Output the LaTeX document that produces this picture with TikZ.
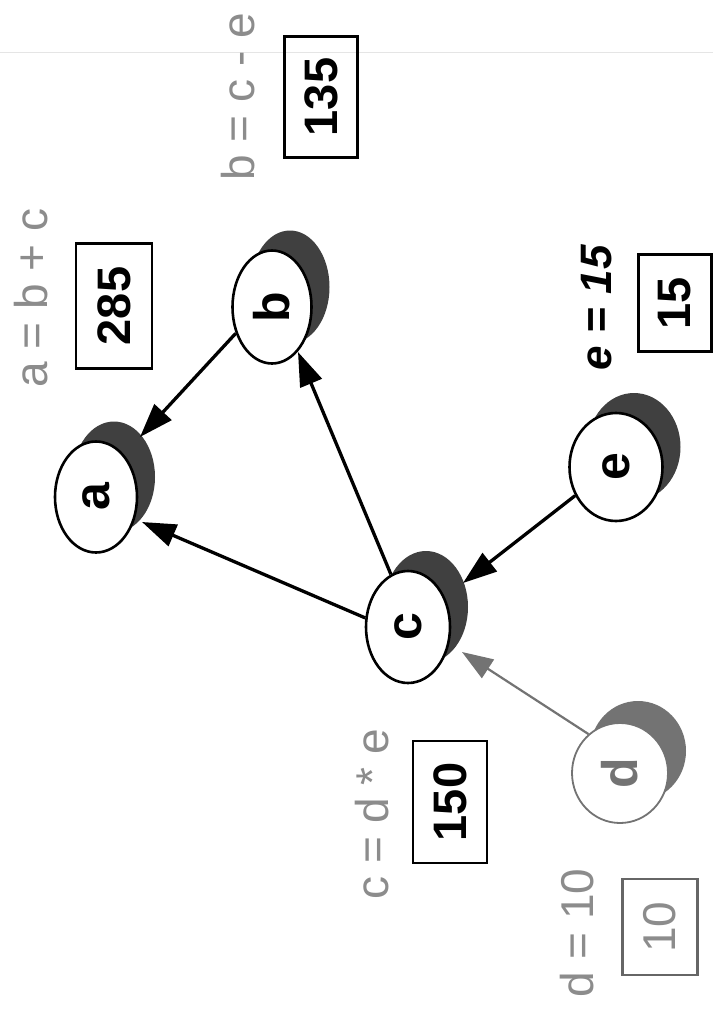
\documentclass[tikz,border=0pt]{standalone}
\usepackage{graphicx}
\usepackage{fontspec}
\setmainfont{Liberation Sans}
\usetikzlibrary{shapes.geometric,shadows,arrows.meta}
\tikzset{
  ell/.style={ellipse, draw=black, line width=2.6pt, fill=white, inner sep=0pt,
    font=\fontsize{50}{50}\selectfont\bfseries},
  shad/.style={drop shadow={shadow xshift=18pt, shadow yshift=20pt, opacity=1, fill=black!75}},
  gshad/.style={drop shadow={shadow xshift=18pt, shadow yshift=22pt, opacity=1, fill=black!55}},
  gell/.style={ell, draw=black!55, line width=1.8pt, text=black!55},
  numbox/.style={draw=black, line width=2.5pt, rotate=90, inner sep=0pt,
    font=\fontsize{47}{47}\selectfont\bfseries},
  gnumbox/.style={numbox, draw=black!60, text=black!45, font=\fontsize{46}{46}\selectfont},
  gtxt/.style={rotate=90, text=black!45, inner sep=0pt, font=\fontsize{46}{46}\selectfont},
  btxt/.style={rotate=90, text=black, inner sep=0pt, font=\fontsize{44}{44}\selectfont\bfseries\itshape},
  arr/.style={line width=3.3pt, -{Triangle[length=34pt,width=23pt]}},
  garr/.style={line width=2.2pt, draw=black!55, -{Triangle[length=31pt,width=22pt]}},
}
\begin{document}
\begin{tikzpicture}[x=1pt,y=-1pt]
\useasboundingbox (0,0) rectangle (713,1009);
\fill[white] (0,0) rectangle (713,1009);
\draw[black!10, line width=1pt] (0,52) -- (713,52);

% nodes
\node[ell, shad, minimum width=82pt, minimum height=111pt] (a) at (96,497) {\rotatebox{90}{a}};
\node[ell, shad, minimum width=79pt, minimum height=113pt] (b) at (272,307) {\rotatebox{90}{b}};
\node[ell, shad, minimum width=84pt, minimum height=112pt] (c) at (408,627) {\rotatebox{90}{c}};
\node[ell, shad, minimum width=93pt, minimum height=108pt] (e) at (616,467) {\rotatebox{90}{e}};
\node[gell, gshad, minimum width=96pt, minimum height=100pt] (d) at (620,773) {\rotatebox{90}{d}};

% formulas
\node[gtxt] (fa) at (31,298) {a = b + c};
\node[gtxt] (fb) at (238,97) {b = c - e};
\node[gtxt] (fc) at (372,814) {c = d * e};
\node[gtxt] (fd) at (577,933) {d = 10};
\node[btxt] (fe) at (597,308) {e\hspace{0.3em}=\hspace{0.3em}15};

% value boxes
\node[numbox, minimum width=125pt, minimum height=76pt] (va) at (114,306) {285};
\node[numbox, minimum width=121pt, minimum height=73pt] (vb) at (321,97) {135};
\node[numbox, minimum width=122pt, minimum height=74pt] (vc) at (450,802) {150};
\node[numbox, minimum width=97pt, minimum height=73pt] (ve) at (675,303) {15};
\node[gnumbox, minimum width=96pt, minimum height=75pt] (vd) at (660,927) {10};

% connectors
\draw[arr] (b.216) -- ([shift={(44,-60)}]a.center);
\draw[arr] (c.168) -- ([shift={(46,25)}]a.center);
\draw[arr] (c.108) -- ([shift={(26,45)}]b.center);
\draw[arr] (e.215) -- ([shift={(55,-44)}]c.center);
\draw[garr] (d.129) -- ([shift={(54,25)}]c.center);
\end{tikzpicture}
\end{document}
